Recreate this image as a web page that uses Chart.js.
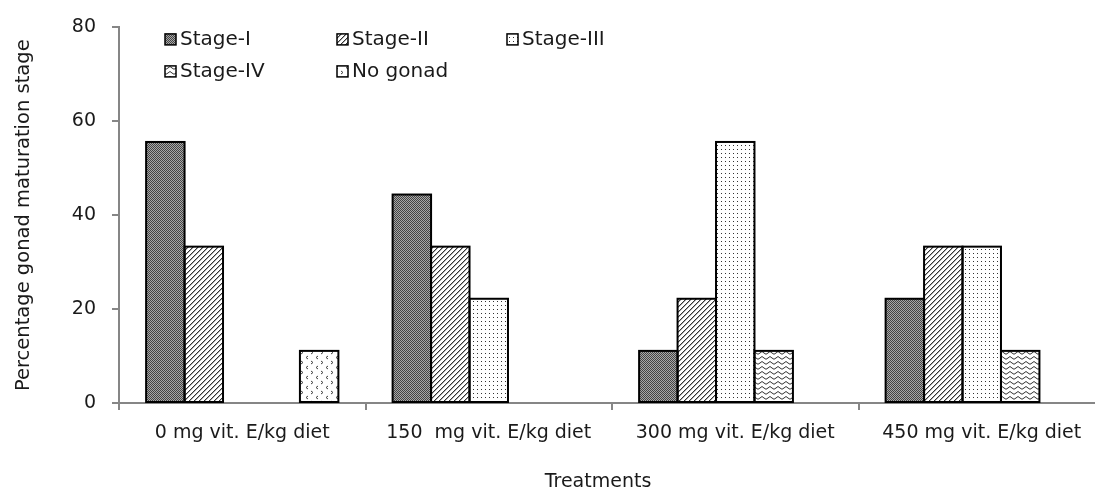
<!DOCTYPE html>
<html>
<head>
<meta charset="utf-8">
<script src="https://cdn.jsdelivr.net/npm/chart.js@4.4.1/dist/chart.umd.min.js"></script>
<style>
  html, body { margin: 0; padding: 0; background: #fff; overflow: hidden; }
  #wrap { position: relative; width: 1110px; height: 500px; }
</style>
</head>
<body>
<div id="wrap"><canvas id="c"></canvas></div>
<script>
// ---- data ----
const categories = ['0 mg vit. E/kg diet', '150  mg vit. E/kg diet', '300 mg vit. E/kg diet', '450 mg vit. E/kg diet'];
const seriesNames = ['Stage-I', 'Stage-II', 'Stage-III', 'Stage-IV', 'No gonad'];
const stageI   = [55.6, 44.4, 11.1, 22.2];
const stageII  = [33.3, 33.3, 22.2, 33.3];
const stageIII = [0, 22.2, 55.6, 33.3];
const stageIV  = [0, 0, 11.1, 11.1];
const noGonad  = [11.1, 0, 0, 0];
const yTicks = [0, 20, 40, 60, 80];
const yTitle = 'Percentage gonad maturation stage';
const xTitle = 'Treatments';

// ---- patterns ----
function makePattern(w, h, draw) {
  const c = document.createElement('canvas');
  c.width = w; c.height = h;
  const g = c.getContext('2d');
  g.fillStyle = '#fff'; g.fillRect(0, 0, w, h);
  draw(g);
  return document.getElementById('c').getContext('2d').createPattern(c, 'repeat');
}
const patStageI = makePattern(2, 2, g => {
  g.fillStyle = '#a8a8a8'; g.fillRect(0, 0, 2, 2);
  g.fillStyle = '#444'; g.fillRect(0, 0, 1, 1); g.fillRect(1, 1, 1, 1);
});
const patStageII = makePattern(5, 5, g => {
  g.fillStyle = '#333';
  for (let i = 0; i < 5; i++) { g.fillRect(i, 4 - i, 1, 1); }
  g.fillStyle = '#aaa';
  for (let i = 0; i < 5; i++) { g.fillRect((i + 1) % 5, 4 - i, 1, 1); }
});
const patStageIII = makePattern(8, 8, g => {
  g.fillStyle = '#333';
  g.fillRect(1, 1, 1, 1); g.fillRect(5, 1, 1, 1);
  g.fillRect(1, 5, 1, 1); g.fillRect(5, 5, 1, 1);
});
const patStageIV = makePattern(8, 5, g => {
  g.strokeStyle = '#333'; g.lineWidth = 1;
  g.beginPath();
  g.moveTo(0, 3); g.quadraticCurveTo(2, 0, 4, 3); g.quadraticCurveTo(6, 5.5, 8, 3);
  g.stroke();
});
const patNoGonad = makePattern(10, 10, g => {
  g.strokeStyle = '#444'; g.lineWidth = 1;
  g.beginPath();
  g.moveTo(1, 1); g.lineTo(3, 2.5); g.lineTo(1, 4);
  g.moveTo(8, 6); g.lineTo(6, 7.5); g.lineTo(8, 9);
  g.stroke();
});
const patterns = [patStageI, patStageII, patStageIII, patStageIV, patNoGonad];
const seriesData = [stageI, stageII, stageIII, stageIV, noGonad];

const FONT = 'DejaVu Sans';
const AXIS = '#868686';
const TEXT = '#1a1a1a';

// outline bars (centered stroke, like the original)
const outlinePlugin = {
  id: 'outline',
  afterDatasetsDraw(chart) {
    const ctx = chart.ctx;
    ctx.save();
    ctx.strokeStyle = '#000';
    ctx.lineWidth = 2;
    chart.data.datasets.forEach((ds, i) => {
      const meta = chart.getDatasetMeta(i);
      meta.data.forEach((bar, j) => {
        if (!ds.data[j]) return;
        const p = bar.getProps(['x', 'y', 'base', 'width'], true);
        ctx.strokeRect(p.x - p.width / 2, p.y, p.width, p.base - p.y);
      });
    });
    ctx.restore();
  }
};

// legend inside the plot area (3 columns x 2 rows) + x-axis title
const legendPlugin = {
  id: 'innerLegend',
  afterDraw(chart) {
    const ctx = chart.ctx;
    const a = chart.chartArea;
    const cols = [a.left + 46, a.left + 218, a.left + 388];
    const rows = [a.top + 12, a.top + 44];
    ctx.save();
    ctx.font = '20px "' + FONT + '"';
    ctx.textBaseline = 'middle';
    chart.data.datasets.forEach((ds, i) => {
      const x = cols[i % 3], y = rows[Math.floor(i / 3)];
      ctx.fillStyle = patterns[i];
      ctx.fillRect(x, y - 5.5, 11, 11);
      ctx.strokeStyle = '#000'; ctx.lineWidth = 1.5;
      ctx.strokeRect(x, y - 5.5, 11, 11);
      ctx.fillStyle = TEXT;
      ctx.fillText(ds.label, x + 15, y);
    });
    ctx.font = '19px "' + FONT + '"';
    ctx.textAlign = 'center';
    ctx.fillStyle = TEXT;
    ctx.fillText(xTitle, (a.left + a.right) / 2 - 14, 482);
    ctx.restore();
  }
};

new Chart(document.getElementById('c'), {
  type: 'bar',
  data: {
    labels: categories,
    datasets: seriesNames.map((name, i) => ({
      label: name,
      data: seriesData[i],
      backgroundColor: patterns[i],
      borderWidth: 0,
      categoryPercentage: 0.78,
      barPercentage: 1.0
    }))
  },
  options: {
    responsive: true,
    maintainAspectRatio: false,
    animation: false,
    layout: { padding: { left: 0, right: 5, top: 26, bottom: 9 } },
    plugins: { legend: { display: false }, tooltip: { enabled: false } },
    scales: {
      y: {
        min: 0, max: 80,
        afterFit(s) { s.width = 119; },
        afterBuildTicks(s) { s.ticks = yTicks.map(v => ({ value: v })); },
        border: { display: true, color: AXIS, width: 2 },
        grid: { display: true, drawOnChartArea: false, drawTicks: true, tickLength: 7, color: AXIS, lineWidth: 2 },
        ticks: { color: TEXT, font: { family: FONT, size: 19 }, padding: 16 },
        title: { display: true, text: yTitle, color: TEXT, font: { family: FONT, size: 19.5 }, padding: { top: 12, bottom: 0 } }
      },
      x: {
        afterFit(s) { s.height = 500 - 9 - 403; },
        border: { display: true, color: AXIS, width: 2 },
        grid: { display: true, offset: true, drawOnChartArea: false, drawTicks: true, tickLength: 7, color: AXIS, lineWidth: 2 },
        ticks: { color: TEXT, font: { family: FONT, size: 19 }, padding: 12, maxRotation: 0, autoSkip: false },
        title: { display: false }
      }
    }
  },
  plugins: [outlinePlugin, legendPlugin]
});
</script>
</body>
</html>
